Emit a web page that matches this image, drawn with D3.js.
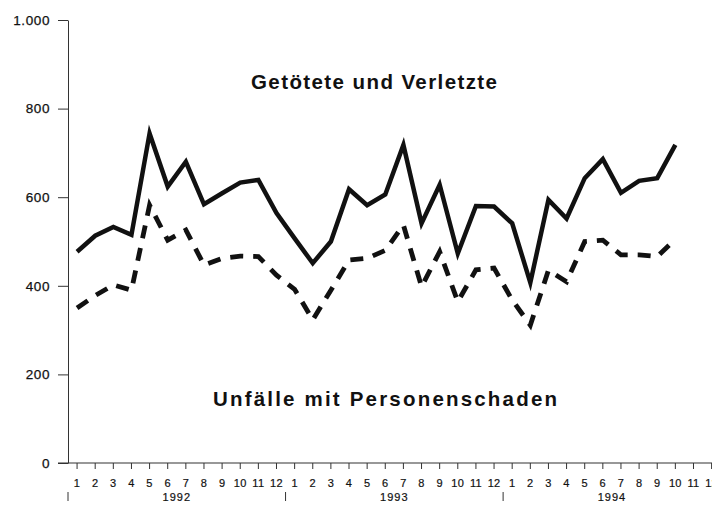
<!DOCTYPE html>
<html>
<head>
<meta charset="utf-8">
<script src="https://cdn.jsdelivr.net/npm/d3@7/dist/d3.min.js"></script>
<style>
  html, body { margin: 0; padding: 0; background: #fff; }
  svg { display: block; }
  text { font-family: "Liberation Sans", Arial, Helvetica, sans-serif; fill: #111; }
</style>
</head>
<body>
<svg id="chart" width="712" height="509"></svg>
<script>
// ---- data ----
const monthLabels = ["1","2","3","4","5","6","7","8","9","10","11","12",
                     "1","2","3","4","5","6","7","8","9","10","11","12",
                     "1","2","3","4","5","6","7","8","9","10","11","12"];
const years = ["1992", "1993", "1994"];
const yTicks = [0, 200, 400, 600, 800, 1000];
const seriesNames = ["Getötete und Verletzte", "Unfälle mit Personenschaden"];
// Getötete und Verletzte (Jan 1992 – Oct 1994)
const verletzte = [477, 513, 533, 515, 744, 624, 680, 584, 609, 633, 639, 564,
                   507, 451, 500, 618, 582, 606, 718, 541, 628, 473, 580, 579,
                   541, 407, 594, 552, 643, 686, 610, 637, 643, 718];
// Unfälle mit Personenschaden (Jan 1992 – Oct 1994)
const unfaelle = [350, 378, 402, 390, 582, 503, 526, 447, 462, 467, 466, 424,
                  392, 323, 390, 458, 462, 480, 537, 398, 477, 364, 436, 440,
                  368, 311, 435, 409, 500, 503, 470, 470, 466, 505];

// ---- layout ----
const svg = d3.select("#chart");
const x = d3.scaleLinear().domain([-0.5, 35.5]).range([68, 68 + 36 * 18.13]);
const y = d3.scaleLinear().domain([0, 1000]).range([463, 20]);

const de = d3.formatLocale({decimal: ",", thousands: ".", grouping: [3], currency: ["", " DM"]});
const fmt = de.format(",d");

// y axis
const yAxis = svg.append("g")
  .attr("transform", "translate(68,0)")
  .call(d3.axisLeft(y).tickValues(yTicks).tickFormat(fmt).tickSize(10).tickSizeOuter(0).tickPadding(8));
yAxis.select(".domain").attr("stroke", "#333").attr("stroke-width", 1);
yAxis.selectAll(".tick line").attr("stroke", "#333").attr("stroke-width", 1);
yAxis.selectAll(".tick text")
  .attr("font-size", 13.5).attr("letter-spacing", 0.6).attr("fill", "#111")
  .attr("stroke", "#111").attr("stroke-width", 0.25)
  .style("font-family", "'Liberation Sans', Arial, sans-serif");

// x axis baseline (extends a bit left of the y axis)
svg.append("line")
  .attr("x1", 58).attr("x2", 712)
  .attr("y1", y(0)).attr("y2", y(0))
  .attr("stroke", "#333").attr("stroke-width", 1.2);

// month ticks
const idx = d3.range(monthLabels.length);
svg.append("g").selectAll("line").data(idx).join("line")
  .attr("x1", d => x(d)).attr("x2", d => x(d))
  .attr("y1", y(0)).attr("y2", y(0) + 6)
  .attr("stroke", "#333").attr("stroke-width", 1);

svg.append("g").selectAll("text").data(idx).join("text")
  .attr("x", d => x(d)).attr("y", 487)
  .attr("text-anchor", "middle")
  .attr("font-size", 11).attr("letter-spacing", 0.3)
  .attr("stroke", "#111").attr("stroke-width", 0.2)
  .text(d => monthLabels[d]);

// year separators and labels
svg.append("g").selectAll("line").data(years).join("line")
  .attr("x1", (d, i) => x(i * 12 - 0.5)).attr("x2", (d, i) => x(i * 12 - 0.5))
  .attr("y1", 492).attr("y2", 501)
  .attr("stroke", "#333").attr("stroke-width", 1);

svg.append("g").selectAll("text").data(years).join("text")
  .attr("x", (d, i) => x(i * 12 + 5.5)).attr("y", 501)
  .attr("text-anchor", "middle")
  .attr("font-size", 11).attr("letter-spacing", 1)
  .attr("stroke", "#111").attr("stroke-width", 0.2)
  .text(d => d);

// lines
const line = d3.line().x((d, i) => x(i)).y(d => y(d)).curve(d3.curveLinear);

svg.append("path").datum(unfaelle)
  .attr("d", line)
  .attr("fill", "none").attr("stroke", "#111")
  .attr("stroke-width", 4.8)
  .attr("stroke-dasharray", "13,10")
  .attr("stroke-linejoin", "miter");

svg.append("path").datum(verletzte)
  .attr("d", line)
  .attr("fill", "none").attr("stroke", "#111")
  .attr("stroke-width", 4.5)
  .attr("stroke-linejoin", "miter");

// series labels
svg.append("text")
  .attr("x", 251).attr("y", 89)
  .attr("font-size", 20.5).attr("font-weight", "bold")
  .attr("textLength", 246).attr("lengthAdjust", "spacing")
  .text(seriesNames[0]);

svg.append("text")
  .attr("x", 213).attr("y", 406)
  .attr("font-size", 20.5).attr("font-weight", "bold")
  .attr("textLength", 344).attr("lengthAdjust", "spacing")
  .text(seriesNames[1]);
</script>
</body>
</html>
